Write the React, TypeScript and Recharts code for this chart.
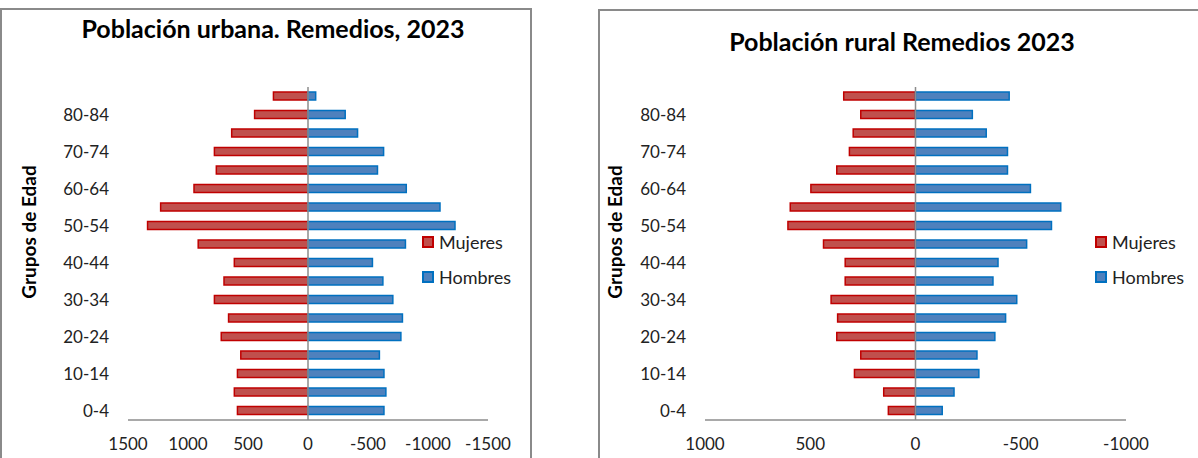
import { BarChart, Bar, XAxis, YAxis, ReferenceLine } from "recharts";

const ageGroups = [
  "0-4", "5-9", "10-14", "15-19", "20-24", "25-29", "30-34", "35-39", "40-44",
  "45-49", "50-54", "55-59", "60-64", "65-69", "70-74", "75-79", "80-84", "85+",
];

// urbana
const urbanMujeres = [588, 614, 588, 560, 723, 662, 780, 700, 614, 915, 1337, 1228, 950, 764, 780, 636, 445, 288];
const urbanHombres = [-633, -649, -633, -595, -774, -787, -707, -624, -537, -812, -1225, -1100, -819, -579, -630, -413, -310, -64];
const urbanTicks = [1500, 1000, 500, 0, -500, -1000, -1500];

// rural
const ruralMujeres = [129, 151, 290, 260, 374, 370, 401, 334, 334, 437, 606, 595, 497, 374, 314, 296, 260, 341];
const ruralHombres = [-127, -183, -301, -292, -377, -428, -481, -368, -392, -528, -646, -690, -546, -437, -437, -336, -270, -445];
const ruralTicks = [1000, 500, 0, -500, -1000];

const FONT = "Lato, 'Open Sans', sans-serif";
const RED = "#C0504D";
const RED_EDGE = "#C00000";
const BLUE = "#4F81BD";
const BLUE_EDGE = "#0070C0";

function makeRows(mujeres: number[], hombres: number[]) {
  return ageGroups.map((g, i) => ({ grupo: g, Mujeres: mujeres[i], Hombres: hombres[i] }));
}

function LegendBox({ x }: { x: number }) {
  const items = [
    { name: "Mujeres", fill: RED, edge: RED_EDGE },
    { name: "Hombres", fill: BLUE, edge: BLUE_EDGE },
  ];
  return (
    <div style={{ position: "absolute", left: x, top: 224, fontFamily: FONT, fontSize: 18, color: "#222" }}>
      {items.map((it) => (
        <div key={it.name} style={{ display: "flex", alignItems: "center", height: 35 }}>
          <span style={{ width: 8, height: 8, background: it.fill, border: `2px solid ${it.edge}`, marginRight: 5 }} />
          {it.name}
        </div>
      ))}
    </div>
  );
}

interface PyramidProps {
  left: number;
  top: number;
  width: number;
  height: number;
  boxWidth: number;
  title: string;
  titleCenter: number;
  titleTop: number;
  mujeres: number[];
  hombres: number[];
  max: number;
  ticks: number[];
  plotLeft: number;
  plotRight: number;
  axisLabelX: number;
  legendX: number;
}

function Pyramid(p: PyramidProps) {
  const data = makeRows(p.mujeres, p.hombres);
  return (
    <div style={{ position: "absolute", left: p.left, top: 0, width: p.width, height: p.height }}>
      <div
        style={{
          position: "absolute",
          left: 0,
          top: p.top,
          width: p.boxWidth,
          height: 520,
          border: "2px solid #8a8a8a",
          boxSizing: "border-box",
        }}
      />
      <div
        style={{
          position: "absolute",
          left: p.titleCenter - 250,
          width: 500,
          top: p.titleTop,
          textAlign: "center",
          fontFamily: FONT,
          fontWeight: 700,
          fontSize: 25,
          color: "#000",
          whiteSpace: "nowrap",
        }}
      >
        {p.title}
      </div>
      <div
        style={{
          position: "absolute",
          left: p.axisLabelX - 100,
          top: 232 - 12,
          width: 200,
          height: 24,
          lineHeight: "24px",
          textAlign: "center",
          transform: "rotate(-90deg)",
          fontFamily: FONT,
          fontWeight: 700,
          fontSize: 19,
          color: "#000",
        }}
      >
        Grupos de Edad
      </div>
      <div style={{ position: "absolute", left: 0, top: 0 }}>
        <BarChart
          width={p.width}
          height={p.height}
          data={data}
          layout="vertical"
          stackOffset="sign"
          barSize={8}
          margin={{ top: 87, right: p.width - p.plotRight, bottom: 8, left: p.plotLeft - 60 }}
        >
          <XAxis
            type="number"
            reversed
            domain={[-p.max, p.max]}
            ticks={p.ticks}
            interval={0}
            tickLine={false}
            axisLine={{ stroke: "#8c8c8c", strokeWidth: 1.5 }}
            height={30}
            tickMargin={12}
            tick={{ fill: "#222", fontSize: 17, fontFamily: FONT }}
          />
          <YAxis
            type="category"
            dataKey="grupo"
            reversed
            width={60}
            interval={1}
            tickLine={false}
            axisLine={false}
            tickMargin={13}
            tick={{ fill: "#222", fontSize: 17, fontFamily: FONT }}
          />
          <ReferenceLine x={0} stroke="#8c8c8c" strokeWidth={1.5} />
          <Bar dataKey="Mujeres" stackId="a" fill={RED} stroke={RED_EDGE} strokeWidth={1.5} isAnimationActive={false} />
          <Bar dataKey="Hombres" stackId="a" fill={BLUE} stroke={BLUE_EDGE} strokeWidth={1.5} isAnimationActive={false} />
        </BarChart>
      </div>
      <LegendBox x={p.legendX} />
    </div>
  );
}

export default function App() {
  return (
    <div style={{ position: "absolute", left: 0, top: 0, width: 1198, height: 458, overflow: "hidden", background: "#fff" }}>
      <Pyramid
        left={0}
        top={8}
        width={560}
        height={458}
        boxWidth={532}
        title="Población urbana. Remedios, 2023"
        titleCenter={273}
        titleTop={13}
        mujeres={urbanMujeres}
        hombres={urbanHombres}
        max={1500}
        ticks={urbanTicks}
        plotLeft={128}
        plotRight={488}
        axisLabelX={29}
        legendX={422}
      />
      <Pyramid
        left={598}
        top={9}
        width={600}
        height={458}
        boxWidth={640}
        title="Población rural Remedios 2023"
        titleCenter={304}
        titleTop={26}
        mujeres={ruralMujeres}
        hombres={ruralHombres}
        max={1000}
        ticks={ruralTicks}
        plotLeft={107}
        plotRight={528}
        axisLabelX={17}
        legendX={497}
      />
    </div>
  );
}
